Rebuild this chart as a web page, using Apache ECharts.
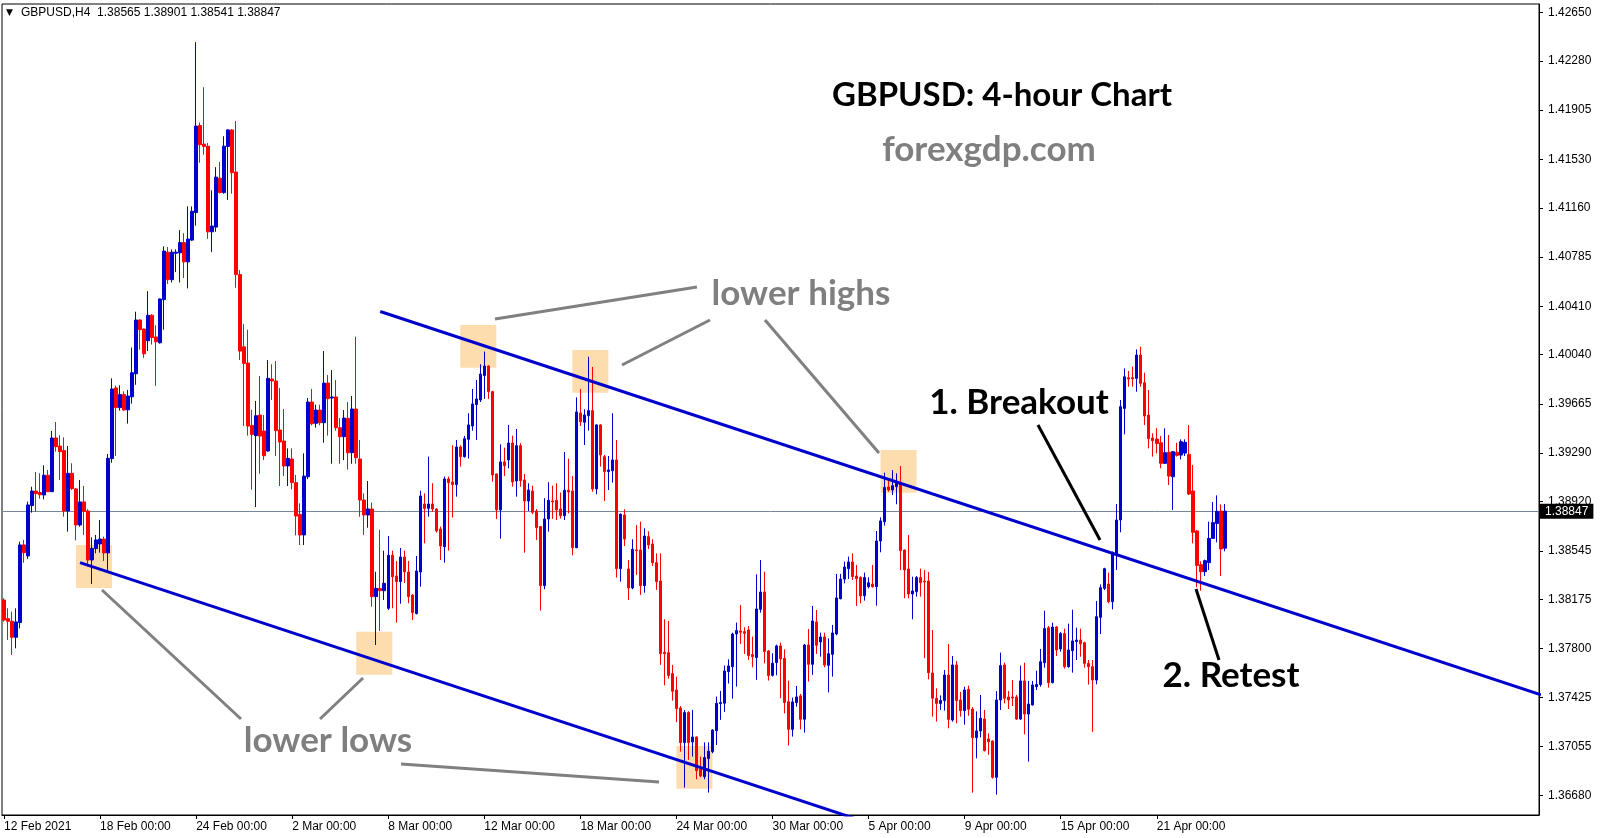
<!DOCTYPE html>
<html><head><meta charset="utf-8">
<script src="https://cdn.jsdelivr.net/npm/echarts@6/dist/echarts.min.js"></script>
<style>html,body{margin:0;padding:0;background:#fff}#c{width:1603px;height:838px}</style>
</head><body><div id="c"></div>
<script>
const opens = [1.38170,1.38028,1.38008,1.37886,1.37998,1.38590,1.38506,1.38890,1.39001,1.38989,1.38971,1.39121,1.38996,1.39405,1.39344,1.39309,1.38849,1.39136,1.39017,1.38742,
1.38918,1.38849,1.38475,1.38562,1.38597,1.38635,1.38529,1.39248,1.39787,1.39637,1.39736,1.39620,1.39719,1.39895,1.40305,1.40236,1.40147,1.40341,1.40176,1.40131,
1.40460,1.40822,1.40612,1.40814,1.40817,1.40895,1.40748,1.40914,1.41124,1.41788,1.41646,1.41630,1.40977,1.41013,1.41386,1.41276,1.41628,1.41754,1.41433,1.40651,
1.40100,1.39977,1.39501,1.39423,1.39580,1.39458,1.39306,1.39855,1.39840,1.39466,1.39382,1.39192,1.39245,1.39065,1.38823,1.38666,1.39110,1.39679,1.39517,1.39618,
1.39522,1.39824,1.39710,1.39718,1.39484,1.39415,1.39555,1.39293,1.39626,1.39245,1.38932,1.38818,1.38864,1.38196,1.38259,1.38241,1.38107,1.38511,1.38353,1.38310,
1.38498,1.38384,1.38208,1.38068,1.38384,1.38902,1.38869,1.38902,1.38864,1.38712,1.38577,1.39093,1.39070,1.39050,1.39337,1.39263,1.39395,1.39497,1.39660,1.39695,
1.39881,1.39954,1.39759,1.39131,1.38857,1.39223,1.39238,1.39367,1.39078,1.39347,1.39085,1.38925,1.39001,1.38849,1.38730,1.38280,1.38788,1.38925,1.38930,1.38864,
1.38813,1.39007,1.39001,1.38569,1.39596,1.39525,1.39576,1.39614,1.39017,1.39505,1.39263,1.39149,1.39156,1.39238,1.38409,1.38818,1.38407,1.38262,1.38552,1.38552,
1.38280,1.38653,1.38597,1.38455,1.38315,1.37772,1.37769,1.37609,1.37484,1.37347,1.37083,1.37312,1.37088,1.37126,1.36880,1.36824,1.36961,1.37014,1.37174,1.37380,
1.37383,1.37624,1.37662,1.37911,1.37934,1.37929,1.37942,1.37754,1.37731,1.38099,1.38231,1.37782,1.37596,1.37693,1.37820,1.37726,1.37395,1.37184,1.37388,1.37439,
1.37261,1.37827,1.37680,1.38003,1.37850,1.37888,1.37672,1.37756,1.37911,1.38180,1.38330,1.38409,1.38460,1.38353,1.38343,1.38203,1.38272,1.38292,1.38272,1.38620,
1.38767,1.39032,1.39009,1.39034,1.39067,1.38551,1.38407,1.38216,1.38234,1.38341,1.38315,1.38315,1.37614,1.37421,1.37382,1.37403,1.37598,1.37255,1.37675,1.37408,
1.37327,1.37489,1.37339,1.37121,1.37172,1.37263,1.37111,1.37095,1.36818,1.37408,1.37675,1.37431,1.37431,1.37431,1.37263,1.37553,1.37301,1.37370,1.37509,1.37525,
1.37692,1.37959,1.37540,1.37964,1.37797,1.37914,1.37662,1.37784,1.37853,1.37865,1.37845,1.37687,1.37662,1.37560,1.38038,1.38259,1.38292,1.38157,1.38513,1.38780,
1.39631,1.39865,1.39865,1.39860,1.40038,1.39827,1.39580,1.39405,1.39397,1.39369,1.39212,1.39296,1.39110,1.39296,1.39275,1.39290,1.39280,1.39001,1.38696,1.38439,
1.38386,1.38455,1.38640,1.38754,1.38848,1.38565];
const highs = [1.38183,1.38107,1.38082,1.38107,1.38615,1.38628,1.38920,1.39034,1.39146,1.39136,1.39197,1.39161,1.39459,1.39527,1.39426,1.39410,1.39344,1.39212,1.39025,1.39085,
1.39040,1.38862,1.38648,1.38666,1.38780,1.38653,1.39283,1.39860,1.39804,1.39807,1.39761,1.39772,1.40095,1.40368,1.40310,1.40240,1.40525,1.40349,1.40265,1.40470,
1.40866,1.40861,1.40843,1.40843,1.40990,1.40966,1.41171,1.41171,1.42423,1.41811,1.42079,1.41654,1.41294,1.41470,1.41510,1.41706,1.41759,1.41760,1.41822,1.40685,
1.40273,1.40231,1.39620,1.39688,1.39878,1.39580,1.40000,1.39967,1.39992,1.39786,1.39626,1.39326,1.39326,1.39123,1.38907,1.39288,1.39710,1.39779,1.39659,1.39659,
1.40068,1.39885,1.39923,1.39847,1.39557,1.39618,1.39679,1.39725,1.40177,1.39390,1.38983,1.39077,1.38912,1.38386,1.38706,1.38546,1.38658,1.38546,1.38467,1.38566,
1.38546,1.38467,1.38215,1.38506,1.39004,1.38983,1.39263,1.39060,1.38870,1.38730,1.39111,1.39111,1.39350,1.39390,1.39350,1.39421,1.39594,1.39779,1.39848,1.39967,
1.40064,1.39960,1.39765,1.39135,1.39357,1.39332,1.39505,1.39423,1.39474,1.39365,1.39131,1.39060,1.39042,1.38864,1.38735,1.38946,1.39068,1.39042,1.39060,1.38989,
1.39299,1.39248,1.39116,1.39715,1.39779,1.39624,1.40025,1.39947,1.39510,1.39510,1.39276,1.39268,1.39594,1.39390,1.38831,1.38862,1.38475,1.38633,1.38742,1.38768,
1.38717,1.38694,1.38633,1.38526,1.38526,1.38023,1.38010,1.37675,1.37586,1.37362,1.37332,1.37322,1.37332,1.37129,1.36976,1.37085,1.37085,1.37185,1.37434,1.37477,
1.37670,1.37718,1.37921,1.37998,1.38132,1.37962,1.37972,1.37891,1.38366,1.38475,1.38386,1.37789,1.37764,1.37830,1.37845,1.37794,1.37555,1.37426,1.37515,1.37454,
1.37835,1.37949,1.38125,1.38094,1.37921,1.37921,1.37878,1.37980,1.38369,1.38369,1.38463,1.38501,1.38526,1.38437,1.38350,1.38379,1.38343,1.38437,1.38696,1.38800,
1.39141,1.39085,1.39161,1.39136,1.39192,1.38555,1.38666,1.38348,1.38353,1.38409,1.38399,1.38384,1.37941,1.37497,1.37443,1.37637,1.37835,1.37743,1.37705,1.37469,
1.37509,1.37517,1.37354,1.37321,1.37446,1.37332,1.37154,1.37100,1.37476,1.37769,1.37692,1.37476,1.37560,1.37446,1.37670,1.37692,1.37553,1.37553,1.37631,1.37797,
1.38089,1.37972,1.37997,1.37972,1.37926,1.37952,1.37990,1.38096,1.37959,1.37952,1.37853,1.37713,1.37713,1.38162,1.38289,1.38416,1.38378,1.38540,1.38902,1.39695,
1.39936,1.39916,1.39949,1.40081,1.40101,1.39903,1.39771,1.39441,1.39479,1.39420,1.39479,1.39428,1.39305,1.39369,1.39395,1.39395,1.39504,1.39199,1.38704,1.38465,
1.38478,1.38767,1.38917,1.38968,1.38899,1.38901];
const lows = [1.38005,1.37866,1.37751,1.37802,1.37954,1.38455,1.38483,1.38836,1.38844,1.38943,1.38938,1.38994,1.38994,1.39301,1.39085,1.38806,1.38691,1.39009,1.38625,1.38729,
1.38666,1.38425,1.38292,1.38526,1.38531,1.38468,1.38386,1.39217,1.39268,1.39614,1.39614,1.39515,1.39667,1.39811,1.40079,1.40016,1.40068,1.40118,1.39803,1.40125,
1.40231,1.40580,1.40591,1.40670,1.40591,1.40625,1.40546,1.40908,1.41024,1.41504,1.41565,1.40924,1.40822,1.40977,1.41270,1.41268,1.41221,1.41268,1.40551,1.40000,
1.39496,1.39423,1.39011,1.38879,1.39133,1.39237,1.39300,1.39695,1.39268,1.39039,1.39115,1.39039,1.39014,1.38663,1.38589,1.38589,1.39092,1.39502,1.39484,1.39502,
1.39369,1.39423,1.39209,1.39461,1.39209,1.39237,1.39164,1.39209,1.39209,1.38805,1.38666,1.38721,1.38119,1.37827,1.37934,1.38170,1.38094,1.38107,1.37997,1.38142,
1.38300,1.38145,1.38018,1.38060,1.38272,1.38602,1.38805,1.38844,1.38684,1.38475,1.38455,1.38547,1.38798,1.38958,1.39187,1.39255,1.39248,1.39461,1.39390,1.39680,
1.39703,1.39703,1.39073,1.38788,1.38638,1.39116,1.39174,1.39034,1.38958,1.39034,1.38531,1.38849,1.38824,1.38628,1.38089,1.38252,1.38691,1.38788,1.38780,1.38791,
1.38780,1.38831,1.38511,1.38565,1.39497,1.39352,1.39461,1.38996,1.38976,1.39187,1.38925,1.39009,1.39065,1.38341,1.38310,1.38582,1.38170,1.38252,1.38361,1.38209,
1.38226,1.38559,1.38430,1.38247,1.37675,1.37520,1.37571,1.37403,1.37238,1.37014,1.36740,1.36951,1.36976,1.36803,1.36819,1.36803,1.36702,1.37002,1.37065,1.37256,
1.37317,1.37533,1.37418,1.37510,1.37835,1.37759,1.37713,1.37657,1.37561,1.38074,1.37688,1.37556,1.37586,1.37596,1.37421,1.37306,1.37062,1.37129,1.37357,1.37184,
1.37159,1.37548,1.37599,1.37759,1.37738,1.37657,1.37466,1.37586,1.37901,1.38175,1.38297,1.38330,1.38323,1.38125,1.38145,1.38165,1.38259,1.38264,1.38127,1.38534,
1.38737,1.38996,1.38971,1.38900,1.38399,1.38183,1.38183,1.38023,1.38196,1.38196,1.37726,1.37565,1.37281,1.37243,1.37332,1.37327,1.37192,1.37243,1.37230,1.37281,
1.37220,1.37288,1.36701,1.36963,1.37123,1.37015,1.36989,1.36808,1.36686,1.37332,1.37382,1.37339,1.37362,1.37255,1.37255,1.37146,1.36938,1.37365,1.37484,1.37509,
1.37654,1.37502,1.37535,1.37743,1.37776,1.37647,1.37654,1.37616,1.37713,1.37738,1.37654,1.37525,1.37166,1.37527,1.37911,1.38246,1.38145,1.38099,1.38399,1.38686,
1.39433,1.39796,1.39796,1.39758,1.39796,1.39504,1.39326,1.39263,1.39288,1.39174,1.39207,1.39047,1.38856,1.39263,1.39242,1.39268,1.38970,1.38602,1.38267,1.38241,
1.38353,1.38399,1.38635,1.38610,1.38353,1.38541];
const closes = [1.38018,1.38008,1.37886,1.38003,1.38590,1.38531,1.38895,1.39001,1.38981,1.38973,1.39121,1.38996,1.39405,1.39339,1.39301,1.38849,1.39136,1.39019,1.38742,1.38918,
1.38846,1.38475,1.38564,1.38628,1.38635,1.38529,1.39250,1.39779,1.39637,1.39736,1.39619,1.39725,1.39903,1.40305,1.40231,1.40047,1.40341,1.40171,1.40139,1.40465,
1.40830,1.40612,1.40822,1.40822,1.40895,1.40748,1.40922,1.41134,1.41783,1.41641,1.41628,1.40977,1.41021,1.41394,1.41276,1.41630,1.41754,1.41428,1.40651,1.40068,
1.39974,1.39496,1.39431,1.39575,1.39420,1.39270,1.39860,1.39840,1.39461,1.39375,1.39192,1.39250,1.39065,1.38810,1.38666,1.39115,1.39679,1.39514,1.39618,1.39522,
1.39824,1.39705,1.39718,1.39484,1.39415,1.39557,1.39293,1.39626,1.39255,1.38932,1.38818,1.38864,1.38196,1.38259,1.38241,1.38297,1.38511,1.38348,1.38310,1.38498,
1.38384,1.38196,1.38074,1.38391,1.38963,1.38869,1.38902,1.38864,1.38697,1.38582,1.39093,1.39065,1.39050,1.39337,1.39263,1.39400,1.39505,1.39665,1.39703,1.39893,
1.39954,1.39759,1.39123,1.38857,1.39223,1.39195,1.39367,1.39070,1.39347,1.39080,1.38925,1.39009,1.38839,1.38722,1.38280,1.38788,1.38930,1.38918,1.38857,1.38813,
1.39007,1.38994,1.38569,1.39604,1.39530,1.39581,1.39614,1.39017,1.39505,1.39276,1.39149,1.39162,1.39238,1.38409,1.38824,1.38635,1.38262,1.38557,1.38547,1.38280,
1.38658,1.38590,1.38455,1.38310,1.37761,1.37761,1.37594,1.37474,1.37342,1.37083,1.37312,1.37083,1.37126,1.36869,1.36829,1.36969,1.37017,1.37179,1.37383,1.37388,
1.37629,1.37667,1.37911,1.37937,1.37924,1.37916,1.37746,1.37738,1.38102,1.38231,1.37777,1.37594,1.37688,1.37820,1.37721,1.37388,1.37184,1.37393,1.37431,1.37261,
1.37827,1.37680,1.38010,1.37825,1.37888,1.37675,1.37761,1.37919,1.38186,1.38330,1.38422,1.38460,1.38348,1.38333,1.38201,1.38341,1.38302,1.38272,1.38620,1.38773,
1.39029,1.39009,1.39042,1.39067,1.38546,1.38399,1.38216,1.38239,1.38341,1.38302,1.38308,1.37616,1.37421,1.37382,1.37405,1.37598,1.37260,1.37675,1.37403,1.37327,
1.37484,1.37337,1.37121,1.37172,1.37268,1.37022,1.37090,1.36818,1.37408,1.37670,1.37421,1.37408,1.37423,1.37263,1.37553,1.37301,1.37377,1.37522,1.37525,1.37700,
1.37952,1.37540,1.37964,1.37789,1.37914,1.37662,1.37789,1.37858,1.37865,1.37837,1.37687,1.37662,1.37560,1.38043,1.38264,1.38409,1.38157,1.38533,1.38780,1.39644,
1.39872,1.39855,1.39857,1.40038,1.39822,1.39573,1.39400,1.39385,1.39364,1.39212,1.39293,1.39115,1.39301,1.39273,1.39377,1.39372,1.38978,1.38686,1.38434,1.38386,
1.38470,1.38640,1.38760,1.38846,1.38559,1.38847];

const yTickLabels = ['1.36680','1.37055','1.37425','1.37800','1.38175','1.38545','1.38920','1.39290','1.39665','1.40040','1.40410','1.40785','1.41160','1.41530','1.41905','1.42280','1.42650'];
const xTickLabels = ['12 Feb 2021','18 Feb 00:00','24 Feb 00:00','2 Mar 00:00','8 Mar 00:00','12 Mar 00:00','18 Mar 00:00','24 Mar 00:00','30 Mar 00:00','5 Apr 00:00','9 Apr 00:00','15 Apr 00:00','21 Apr 00:00'];
const lastPrice = 1.38847;
const headerText = 'GBPUSD,H4  1.38565 1.38901 1.38541 1.38847';
// trend lines: [bar index, price]
const upperTrend = [[94, 1.40370], [384, 1.37447]];
const lowerTrend = [[19, 1.38455], [215, 1.36480]];
// highlighted zones: [fromBar, toBar, topPrice, bottomPrice]
const zones = [[18,27,1.38590,1.38262],[88,97,1.37928,1.37601],[168,177,1.37057,1.36732],[114,123,1.40267,1.39941],[142,151,1.40076,1.39750],[219,228,1.39314,1.38988]];

const SLOTS = 384;
const categories = [];
let t = Date.UTC(2021, 1, 12, 0);
while (categories.length < SLOTS) {
  const d = new Date(t);
  const wd = d.getUTCDay();
  if (wd !== 0 && wd !== 6) categories.push(d.toISOString().slice(0, 16));
  t += 4 * 3600e3;
}
const candles = opens.map((o, i) => [o, closes[i], lows[i], highs[i]]);
const yTickValues = yTickLabels.map(Number);
const showX = (i) => i % 24 === 0 && i / 24 < xTickLabels.length;

const BLUE = '#0000CD', RED = '#FF0000';
const chart = echarts.init(document.getElementById('c'), null, {renderer: 'canvas'});
const gray = '#808080';
const T = (text, x, y, font, fill) => ({type: 'text', x, y, z: 100, style: {text, font, fill, align: 'center', verticalAlign: 'middle'}});
const L = (x1, y1, x2, y2, stroke) => ({type: 'line', z: 100, shape: {x1, y1, x2, y2}, style: {stroke, lineWidth: 3}});

chart.setOption({
  animation: false,
  backgroundColor: '#fff',
  grid: {left: 2, right: 64, top: 4, bottom: 23, show: true, borderColor: '#000', borderWidth: 1, backgroundColor: 'transparent'},
  xAxis: {
    type: 'category', data: categories, boundaryGap: true,
    axisLine: {show: true, lineStyle: {color: '#000', width: 1}},
    axisTick: {show: true, alignWithLabel: true, interval: showX, length: 4, lineStyle: {color: '#000'}},
    axisLabel: {interval: showX, formatter: (v, i) => xTickLabels[i / 24] || '', align: 'left', color: '#000',
      fontFamily: 'Liberation Sans', fontSize: 12, margin: 6},
    splitLine: {show: false}
  },
  yAxis: {
    type: 'value', position: 'right', min: 1.36531, max: 1.42714, scale: true,
    axisLine: {show: true, lineStyle: {color: '#000', width: 1}},
    axisTick: {show: true, length: 4, lineStyle: {color: '#000'}, customValues: yTickValues},
    axisLabel: {customValues: yTickValues, formatter: (v) => yTickLabels[yTickValues.indexOf(v)] || v.toFixed(5),
      color: '#000', fontFamily: 'Liberation Sans', fontSize: 12, margin: 9, align: 'left'},
    splitLine: {show: false}
  },
  series: [
    {
      type: 'candlestick', data: candles, barWidth: 3, z: 3,
      itemStyle: {color: BLUE, color0: RED, borderColor: BLUE, borderColor0: RED, borderWidth: 1},
      markArea: {silent: true, z: 1, itemStyle: {color: '#FDDCAE'},
        data: zones.map(z => [{coord: [z[0], z[2]]}, {coord: [z[1], z[3]]}])},
      markLine: {silent: true, symbol: ['none', 'none'], z: 2, precision: 5,
        lineStyle: {color: '#778899', width: 1, type: 'solid'},
        label: {show: true, position: 'end', distance: 1, formatter: lastPrice.toFixed(5), color: '#fff', backgroundColor: '#000',
          padding: [2, 5, 1, 5], fontFamily: 'Liberation Sans', fontSize: 12},
        data: [{yAxis: lastPrice}]}
    },
    {type: 'line', data: upperTrend, symbol: 'none', z: 5, clip: true, lineStyle: {color: BLUE, width: 3}},
    {type: 'line', data: lowerTrend, symbol: 'none', z: 5, clip: true, lineStyle: {color: BLUE, width: 3}}
  ],
  graphic: [
    {type: 'text', x: 6, y: 13, z: 100, style: {text: '▼', font: '9px "DejaVu Sans"', fill: '#000', verticalAlign: 'middle'}},
    {type: 'text', x: 21, y: 13, z: 100, style: {text: headerText, font: '12px "Liberation Sans"', fill: '#000', verticalAlign: 'middle'}},
    T('GBPUSD: 4-hour Chart', 1002, 95, 'bold 33px Lato', '#000'),
    T('forexgdp.com', 989, 150, 'bold 35px Lato', '#7f7f7f'),
    T('lower highs', 801, 294, 'bold 35px Lato', '#7f7f7f'),
    T('lower lows', 328, 741, 'bold 35px Lato', '#7f7f7f'),
    T('1. Breakout', 1019, 403, 'bold 35px Lato', '#000'),
    T('2. Retest', 1231, 676, 'bold 35px Lato', '#000'),
    L(495, 319, 697, 287, gray),
    L(622, 365, 710, 320, gray),
    L(765, 320, 879, 453, gray),
    L(241, 719, 102, 590, gray),
    L(320, 719, 363, 678, gray),
    L(401, 764, 659, 782, gray),
    L(1038, 425, 1100, 540, '#000'),
    L(1196, 589, 1219, 660, '#000')
  ]
});
</script></body></html>
